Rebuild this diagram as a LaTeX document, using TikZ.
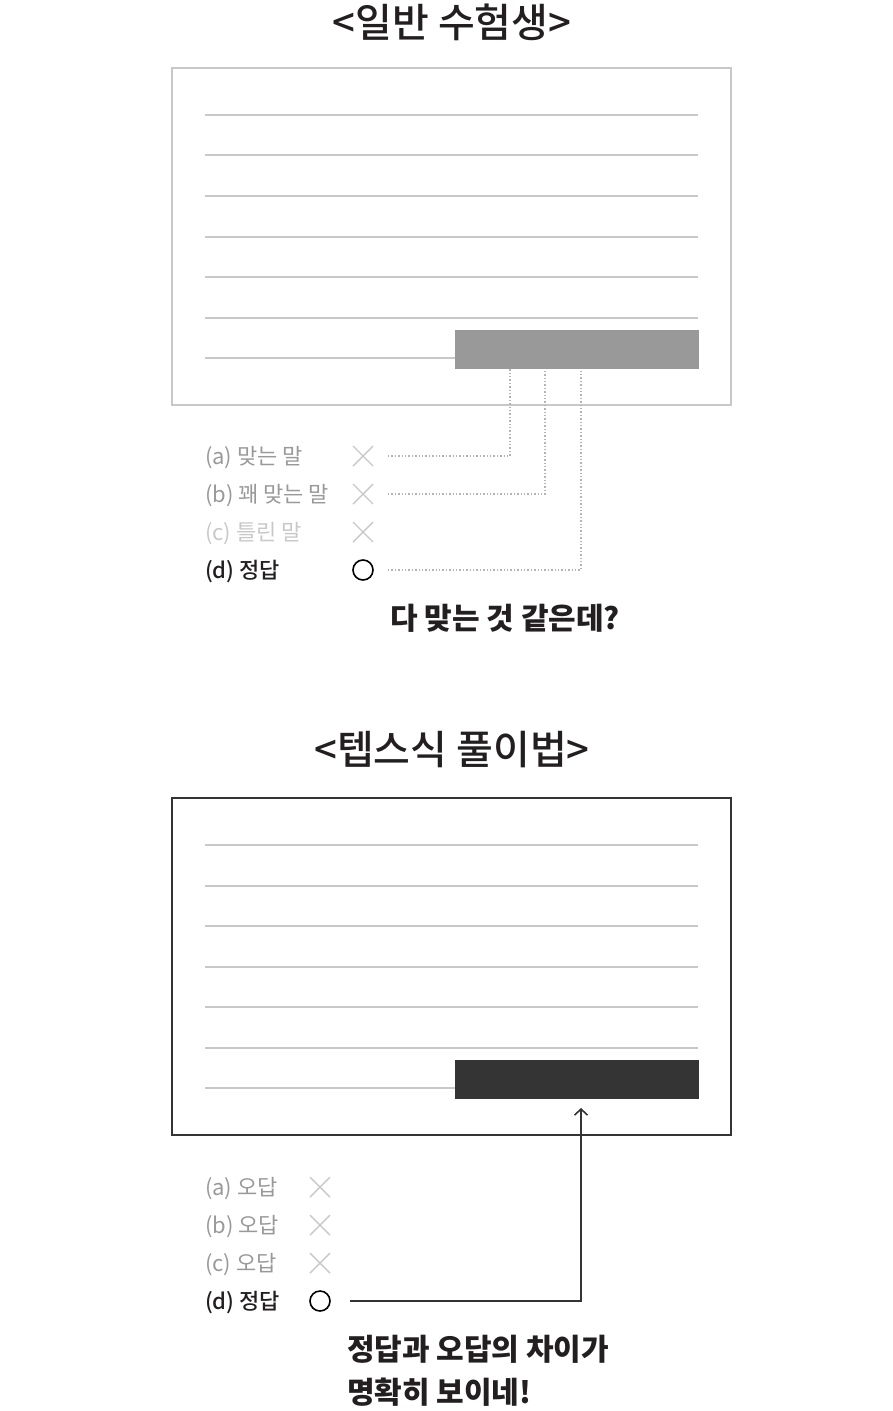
\documentclass[tikz,border=0pt]{standalone}
\usepackage{fontspec}
\setmainfont{Noto Sans CJK KR}
\newfontfamily\krmedium{Noto Sans CJK KR Medium}
\usetikzlibrary{shapes.misc,calc,positioning,arrows.meta}
\definecolor{PaleGray}{HTML}{C8C8C8}
\definecolor{MidGray}{HTML}{999999}
\definecolor{DotGray}{HTML}{B4B4B4}
\definecolor{InkDark}{HTML}{333433}
\definecolor{InkBlack}{HTML}{231F20}
\begin{document}
\begin{tikzpicture}[x=1pt,y=-1pt,
  every node/.style={inner sep=0pt,outer sep=0pt,text=InkBlack},
  title/.style={font=\fontsize{40}{46}\krmedium},
  choice/.style={anchor=west,yshift=-2pt,font=\fontsize{22}{26}\selectfont},
  pick/.style={choice,font=\fontsize{22}{26}\krmedium},
  remark/.style={anchor=west,font=\fontsize{30}{43}\selectfont\bfseries,align=left},
  page/.style={line width=1.6pt,minimum width=559pt,minimum height=337pt,anchor=north west},
  bar/.style={minimum width=244pt,minimum height=39pt,anchor=north west},
  rule/.style={draw=PaleGray,line width=1.6pt},
  wrongmark/.style={cross out,draw=PaleGray,line width=1.4pt,minimum size=20pt},
  rightmark/.style={circle,draw=black,line width=1.6pt,minimum size=20pt},
  tap/.style={draw=DotGray,line width=1.4pt,dotted}]
\useasboundingbox (0,0) rectangle (893,1411);
% upper half
\node [title] (TopTitle) at (452,22) {<일반 수험생>};
\node [page,draw=PaleGray] (TopPage) at (172,68) {};
\draw [rule] (205,115) -- (698,115);
\draw [rule] (205,155) -- (698,155);
\draw [rule] (205,196) -- (698,196);
\draw [rule] (205,237) -- (698,237);
\draw [rule] (205,277) -- (698,277);
\draw [rule] (205,318) -- (698,318);
\draw [rule] (205,358) -- (455,358);
\node [bar,fill=MidGray] (GrayBar) at (455,330) {};
\node [choice,text=MidGray] (TopA) at (205,456) {(a) 맞는 말};
\node [choice,text=MidGray] (TopB) at (205,494) {(b) 꽤 맞는 말};
\node [choice,text=PaleGray] (TopC) at (205,532) {(c) 틀린 말};
\node [pick] (TopD) at (205,570) {(d) 정답};
\node [wrongmark] (TopMarkA) at (363,456) {};
\node [wrongmark] (TopMarkB) at (363,494) {};
\node [wrongmark] (TopMarkC) at (363,532) {};
\node [rightmark] (TopMarkD) at (363,570) {};
\draw [tap] ([xshift=15pt]TopMarkA.east) -| ($(GrayBar.south west)+(55,0)$);
\draw [tap] ([xshift=15pt]TopMarkB.east) -| ($(GrayBar.south west)+(90,0)$);
\draw [tap] ([xshift=15pt]TopMarkD.east) -| ($(GrayBar.south west)+(126,0)$);
\node [remark] (TopRemark) at (390,618) {다 맞는 것 같은데?};
% lower half
\node [title] (BotTitle) at (452,750) {<텝스식 풀이법>};
\node [page,draw=InkDark] (BotPage) at (172,798) {};
\draw [rule] (205,845) -- (698,845);
\draw [rule] (205,886) -- (698,886);
\draw [rule] (205,926) -- (698,926);
\draw [rule] (205,967) -- (698,967);
\draw [rule] (205,1007) -- (698,1007);
\draw [rule] (205,1048) -- (698,1048);
\draw [rule] (205,1088) -- (455,1088);
\node [bar,fill=InkDark] (DarkBar) at (455,1060) {};
\node [choice,text=MidGray] (BotA) at (205,1187) {(a) 오답};
\node [choice,text=MidGray] (BotB) at (205,1225) {(b) 오답};
\node [choice,text=MidGray] (BotC) at (205,1263) {(c) 오답};
\node [pick] (BotD) at (205,1301) {(d) 정답};
\node [wrongmark] (BotMarkA) at (320,1187) {};
\node [wrongmark] (BotMarkB) at (320,1225) {};
\node [wrongmark] (BotMarkC) at (320,1263) {};
\node [rightmark] (BotMarkD) at (320,1301) {};
\draw [InkDark,line width=1.6pt,-{Straight Barb[length=6pt,width=13pt]}] ([xshift=20pt]BotMarkD.east) -| ($(DarkBar.south west)+(126,9)$);
\node [remark] (BotRemark) at (347,1371) {정답과 오답의 차이가\\명확히 보이네!};
\end{tikzpicture}
\end{document}
